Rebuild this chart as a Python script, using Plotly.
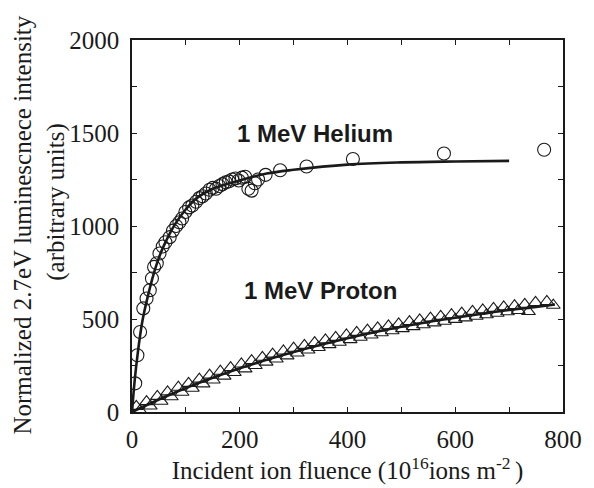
import plotly.graph_objects as go

# ---------------- data ----------------
# 1 MeV Helium (open circles)
he_x = [6, 10, 15, 21, 27, 33, 37, 41, 46, 51, 57, 62, 70, 76, 82, 88, 93, 99,
        106, 112, 119, 125, 131, 137, 144, 150, 156, 162, 168, 174, 180, 186,
        192, 198, 204, 210, 216, 222, 228, 234, 248, 275, 324, 410, 579, 765]
he_y = [154, 305, 430, 557, 610, 655, 718, 780, 800, 852, 890, 913, 940, 975,
        1000, 1020, 1040, 1075, 1100, 1110, 1130, 1150, 1160, 1175, 1195, 1205,
        1200, 1215, 1225, 1235, 1240, 1250, 1255, 1245, 1260, 1265, 1200, 1190,
        1230, 1250, 1275, 1300, 1320, 1360, 1390, 1410]

# Helium fit line
he_fit_x = [0, 5, 10, 15, 20, 30, 40, 50, 60, 80, 100, 120, 150, 200, 250,
            300, 400, 500, 600, 700]
he_fit_y = [0, 170, 300, 410, 500, 630, 740, 830, 900, 1010, 1090, 1150,
            1200, 1245, 1282, 1302, 1330, 1342, 1347, 1350]

# 1 MeV Proton (open triangles, two interleaved sets)
pr_x1 = [8, 27, 47, 66, 86, 105, 125, 144, 164, 183, 203, 222, 242, 261, 281,
         300, 320, 339, 359, 378, 398, 417, 437, 456, 476, 495, 515, 534, 554,
         573, 593, 612, 632, 651, 671, 690, 710, 729, 749, 770]
pr_y1 = [30, 56, 84, 108, 133, 154, 177, 198, 219, 239, 258, 276, 294, 311,
         328, 343, 358, 373, 388, 401, 414, 428, 440, 452, 463, 474, 486, 495,
         505, 514, 523, 532, 541, 549, 557, 565, 572, 579, 589, 594]
pr_x2 = [15, 34, 54, 73, 93, 112, 132, 151, 171, 190, 210, 229, 249, 268, 288,
         307, 327, 346, 366, 385, 405, 424, 444, 463, 483, 502, 522, 541, 561,
         580, 600, 619, 639, 658, 678, 697, 717, 736, 782]
pr_y2 = [8, 32, 58, 82, 106, 128, 151, 172, 193, 212, 232, 250, 268, 285,
         302, 317, 333, 347, 362, 375, 389, 402, 414, 426, 437, 448, 459, 469,
         479, 488, 498, 506, 515, 523, 531, 539, 546, 540, 574]

# Proton fit line
pr_fit_x = [0, 50, 100, 150, 200, 250, 300, 350, 400, 450, 500, 550, 600,
            650, 700, 750, 785]
pr_fit_y = [0, 67, 129, 184, 235, 281, 323, 361, 397, 429, 458, 484, 507,
            528, 548, 565, 578]

x_ticks = [0, 200, 400, 600, 800]
y_ticks = [0, 500, 1000, 1500, 2000]

# ---------------- figure ----------------
SERIF = "Liberation Serif, Times New Roman, serif"
SANS = "Liberation Sans, Arial, sans-serif"
INK = "#1a1a1a"

fig = go.Figure()

fig.add_trace(go.Scatter(x=pr_x2, y=pr_y2, mode="markers",
                         marker=dict(symbol="triangle-up-open", size=12,
                                     color=INK, line=dict(width=1.1, color=INK)),
                         showlegend=False))
fig.add_trace(go.Scatter(x=pr_x1, y=pr_y1, mode="markers",
                         marker=dict(symbol="triangle-up-open", size=12,
                                     color=INK, line=dict(width=1.1, color=INK)),
                         showlegend=False))
fig.add_trace(go.Scatter(x=he_x, y=he_y, mode="markers",
                         marker=dict(symbol="circle-open", size=13,
                                     color=INK, line=dict(width=1.1, color=INK)),
                         showlegend=False))
fig.add_trace(go.Scatter(x=he_fit_x, y=he_fit_y, mode="lines",
                         line=dict(color=INK, width=2.6, shape="spline"),
                         showlegend=False))
fig.add_trace(go.Scatter(x=pr_fit_x, y=pr_fit_y, mode="lines",
                         line=dict(color=INK, width=2.6, shape="spline"),
                         showlegend=False))

axis_common = dict(showline=True, linecolor=INK, linewidth=1.5, mirror="ticks",
                   ticks="inside", ticklen=5, tickwidth=1.3, tickcolor=INK,
                   showgrid=False, zeroline=False,
                   tickfont=dict(family=SERIF, size=25, color=INK))

fig.update_xaxes(range=[0, 800], tickvals=x_ticks,
                 minor=dict(ticks="inside", ticklen=5, tickwidth=1.3,
                            tickcolor=INK, dtick=100, showgrid=False),
                 ticklabelstandoff=4,
                 title=dict(text="Incident ion fluence (10<sup>16</sup>ions m<sup>-2 </sup>)",
                            font=dict(family=SERIF, size=25, color=INK),
                            standoff=4),
                 **axis_common)
fig.update_yaxes(range=[0, 2000], tickvals=y_ticks,
                 minor=dict(ticks="inside", ticklen=5, tickwidth=1.3,
                            tickcolor=INK, dtick=250, showgrid=False),
                 ticklabelstandoff=6,
                 **axis_common)

fig.add_annotation(x=340, y=1500, xref="x", yref="y",
                   text="<b>1 MeV Helium</b>", showarrow=False,
                   font=dict(family=SANS, size=24, color=INK))
fig.add_annotation(x=350, y=655, xref="x", yref="y",
                   text="<b>1 MeV Proton</b>", showarrow=False,
                   font=dict(family=SANS, size=24, color=INK))

fig.add_annotation(x=-0.2545, y=0.502, xref="paper", yref="paper",
                   text="Normalized 2.7eV luminescnece intensity",
                   textangle=-90, showarrow=False, xanchor="center", yanchor="middle",
                   font=dict(family=SERIF, size=25, color=INK))
fig.add_annotation(x=-0.175, y=0.564, xref="paper", yref="paper",
                   text="(arbitrary units)",
                   textangle=-90, showarrow=False, xanchor="center", yanchor="middle",
                   font=dict(family=SERIF, size=25, color=INK))

fig.update_layout(width=594, height=488,
                  margin=dict(l=132, r=22, t=40, b=76),
                  paper_bgcolor="white", plot_bgcolor="white")

fig.write_html("out.html")
